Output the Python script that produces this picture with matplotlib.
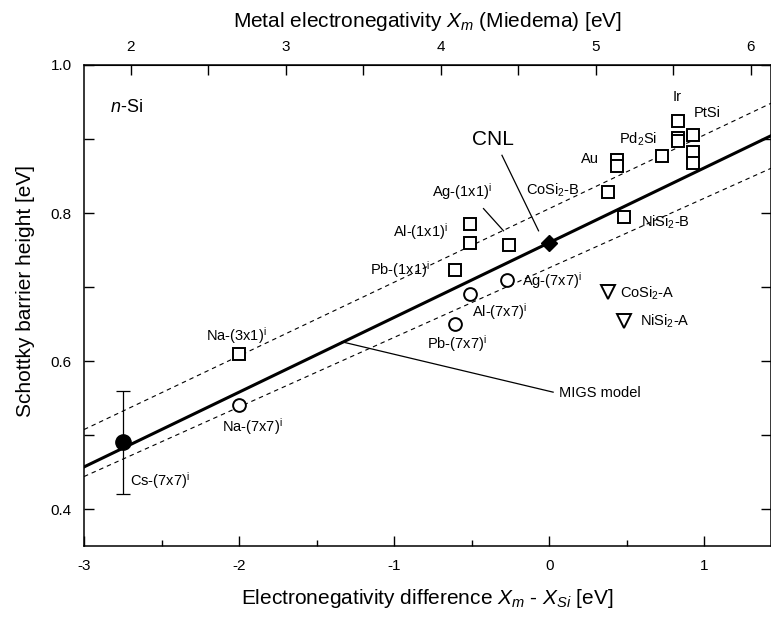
import numpy as np
import matplotlib
import matplotlib.pyplot as plt
from matplotlib.ticker import MultipleLocator, FixedLocator

matplotlib.use("Agg")

plt.rcParams["font.family"] = ["Liberation Sans", "DejaVu Sans"]
plt.rcParams["mathtext.fontset"] = "custom"
plt.rcParams["mathtext.rm"] = "Liberation Sans"
plt.rcParams["mathtext.it"] = "Liberation Sans:italic"
plt.rcParams["mathtext.bf"] = "Liberation Sans:bold"

# Miedema electronegativity of Si
X_SI = 4.70

# open squares (x = Xm - XSi, y = barrier height)
sq_x = [-2.00, -0.61, -0.51, -0.51, -0.26, 0.38, 0.48, 0.44, 0.44, 0.73,
        0.83, 0.83, 0.83, 0.93, 0.93, 0.93]
sq_y = [0.610, 0.723, 0.760, 0.785, 0.757, 0.829, 0.795, 0.872, 0.864, 0.877,
        0.925, 0.901, 0.897, 0.905, 0.882, 0.868]

# open circles, (7x7) reconstructions
circ_x = [-2.00, -0.61, -0.51, -0.27]
circ_y = [0.540, 0.650, 0.690, 0.709]

# open triangles, type-A silicides
tri_x = [0.38, 0.48]
tri_y = [0.693, 0.654]

# Cs-(7x7) with error bar
cs_x = [-2.75]
cs_y = [0.49]
cs_err = [0.07]

# charge neutrality level
cnl_x = [0.0]
cnl_y = [0.76]

# MIGS model line and the two dashed bounds: (intercept, slope)
migs_line = (0.760, 0.101)
upper_line = (0.806, 0.0995)
lower_line = (0.726, 0.094)

top_ticks = [2, 3, 4, 5, 6]

xlim = (-3.0, 1.43)
ylim = (0.35, 1.0)

fig = plt.figure(figsize=(7.71, 6.22), dpi=100)
ax = fig.add_axes([0.109, 0.122, 0.891, 0.7735])

xs = np.array(xlim)
for b, s in [upper_line, lower_line]:
    ax.plot(xs, b + s * xs, color="black", lw=0.8, ls="--", dashes=(4, 3.5))
b, s = migs_line
ax.plot(xs, b + s * xs, color="black", lw=2.2, zorder=3)

ax.plot(sq_x, sq_y, ls="none", marker="s", ms=8.8, mfc="white", mec="black",
        mew=1.4, zorder=4)
ax.plot(circ_x, circ_y, ls="none", marker="o", ms=9.2, mfc="white", mec="black",
        mew=1.4, zorder=4)
ax.plot(tri_x, tri_y, ls="none", marker="v", ms=10, mfc="white", mec="black",
        mew=1.4, zorder=4)
ax.errorbar(cs_x, cs_y, yerr=cs_err, fmt="o", ms=11, color="black", ecolor="black",
            elinewidth=0.9, capsize=5, capthick=0.9, zorder=5)
ax.plot(cnl_x, cnl_y, ls="none", marker="D", ms=8.5, color="black", zorder=5)

fs = 10.5
labels = [
    ("Ir", 0.826, 0.957, "center"),
    ("PtSi", 0.935, 0.935, "left"),
    ("Pd$_2$Si", 0.697, 0.899, "right"),
    ("Au", 0.323, 0.873, "right"),
    ("CoSi$_2$-B", 0.20, 0.831, "right"),
    ("NiSi$_2$-B", 0.594, 0.788, "left"),
    ("Ag-(1x1)$^{\\rm i}$", -0.563, 0.829, "center"),
    ("Al-(1x1)$^{\\rm i}$", -0.652, 0.775, "right"),
    ("Pb-(1x1)$^{\\rm i}$", -0.768, 0.723, "right"),
    ("Ag-(7x7)$^{\\rm i}$", -0.176, 0.709, "left"),
    ("Al-(7x7)$^{\\rm i}$", -0.499, 0.667, "left"),
    ("Pb-(7x7)$^{\\rm i}$", -0.596, 0.624, "center"),
    ("CoSi$_2$-A", 0.458, 0.691, "left"),
    ("NiSi$_2$-A", 0.587, 0.654, "left"),
    ("Na-(3x1)$^{\\rm i}$", -2.02, 0.635, "center"),
    ("Na-(7x7)$^{\\rm i}$", -1.918, 0.512, "center"),
    ("Cs-(7x7)$^{\\rm i}$", -2.703, 0.439, "left"),
]
for txt, x, y, ha in labels:
    ax.text(x, y, txt, fontsize=fs, ha=ha, va="center", zorder=6)

ax.text(-0.365, 0.899, "CNL", fontsize=15, ha="center", va="center")
ax.plot([-0.305, -0.069], [0.878, 0.776], color="black", lw=0.9)
ax.plot([-0.424, -0.295], [0.806, 0.776], color="black", lw=0.9)

ax.text(0.06, 0.557, "MIGS model", fontsize=fs, ha="left", va="center")
ax.plot([-1.337, 0.025], [0.626, 0.558], color="black", lw=0.9)

ax.text(-2.83, 0.942, "$n$-Si", fontsize=13, ha="left", va="center")

ax.set_xlim(*xlim)
ax.set_ylim(*ylim)
ax.xaxis.set_major_locator(MultipleLocator(1))
ax.xaxis.set_minor_locator(MultipleLocator(0.5))
ax.yaxis.set_major_locator(MultipleLocator(0.2))
ax.yaxis.set_minor_locator(MultipleLocator(0.1))
ax.xaxis.set_major_formatter(matplotlib.ticker.FuncFormatter(lambda v, p: f"{v:.0f}"))
ax.yaxis.set_major_formatter(matplotlib.ticker.FormatStrFormatter("%.1f"))
ax.tick_params(which="both", direction="in", labelsize=11, width=1.0,
               right=True, top=False, pad=9)
ax.tick_params(axis="x", which="major", length=7)
ax.tick_params(axis="x", which="minor", length=4)
ax.tick_params(axis="y", which="both", length=7)
for sp in ax.spines.values():
    sp.set_linewidth(1.1)

top = ax.secondary_xaxis("top", functions=(lambda v: v + X_SI, lambda v: v - X_SI))
top.xaxis.set_major_locator(FixedLocator(top_ticks))
top.xaxis.set_minor_locator(FixedLocator([t + 0.5 for t in top_ticks]))
top.xaxis.set_major_formatter(matplotlib.ticker.FuncFormatter(lambda v, p: f"{v:.0f}"))
top.tick_params(which="both", direction="in", length=7, width=1.0, labelsize=11, pad=8)
top.set_xlabel("Metal electronegativity $X_m$ (Miedema) [eV]", fontsize=15, labelpad=9)

ax.set_xlabel("Electronegativity difference $X_m$ - $X_{Si}$ [eV]", fontsize=15,
              labelpad=10)
ax.set_ylabel("Schottky barrier height [eV]", fontsize=15)
ax.yaxis.set_label_coords(-0.072, 0.53)

fig.savefig("out.png", dpi=100)
